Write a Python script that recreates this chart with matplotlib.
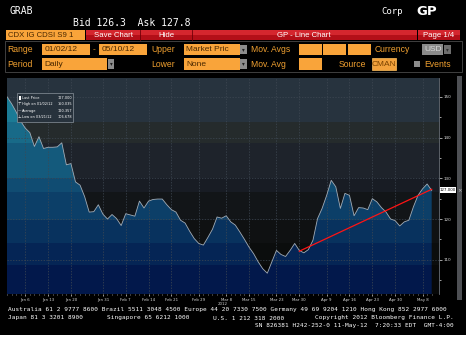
import numpy as np
import pandas as pd
import matplotlib
matplotlib.use("Agg")
import matplotlib.pyplot as plt
from matplotlib.patches import Rectangle, Polygon
from matplotlib.colors import to_rgb

# CDX IG CDSI S9 daily prices, 01/02/12 - 05/10/12 (business days)
dates = pd.bdate_range("2012-01-02", "2012-05-10")
values = [150.0, 148.3, 146.3, 144.0, 142.3, 141.2, 137.8, 140.2, 137.3, 137.6,
          137.6, 137.7, 138.7, 133.3, 133.6, 129.1, 128.3, 125.5, 121.7, 121.8,
          123.5, 121.2, 120.0, 121.1, 120.1, 118.4, 121.3, 121.0, 120.7, 124.4,
          122.7, 124.4, 124.8, 124.9, 124.9, 123.5, 122.3, 121.7, 119.7, 119.0,
          117.0, 115.2, 114.0, 113.6, 115.5, 117.5, 120.5, 120.2, 120.8, 119.3,
          118.5, 116.8, 115.0, 113.1, 111.5, 109.5, 107.8, 106.7, 109.5, 112.3,
          111.3, 110.8, 112.3, 114.0, 112.3, 111.7, 112.5, 114.8, 120.1, 122.6,
          125.8, 129.5, 127.9, 122.6, 126.3, 125.8, 120.8, 122.8, 122.7, 122.3,
          125.0, 124.2, 122.8, 121.7, 120.0, 119.6, 118.3, 119.3, 119.7, 123.0,
          125.8, 127.4, 128.6, 127.0]
trend_dates = ["2012-03-30", "2012-05-10"]
trend_values = [112.1, 127.3]
tick_dates = ["2012-01-06", "2012-01-13", "2012-01-20", "2012-01-31", "2012-02-07",
              "2012-02-14", "2012-02-21", "2012-02-29", "2012-03-08", "2012-03-15",
              "2012-03-23", "2012-03-30", "2012-04-09", "2012-04-16", "2012-04-23",
              "2012-04-30", "2012-05-08"]
tick_labels = ["Jan 6", "Jan 13", "Jan 20", "Jan 31", "Feb 7", "Feb 14", "Feb 21",
               "Feb 29", "Mar 8", "Mar 15", "Mar 23", "Mar 30", "Apr 9", "Apr 16",
               "Apr 23", "Apr 30", "May 8"]
ytick_values = [110, 120, 130, 140, 150]
legend_names = ["Last Price", "High on 01/02/12", "Average", "Low on 03/21/12"]
legend_values = ["127.000", "150.035", "120.357", "106.678"]
last_price = 127.0

W, H = 466, 347
ORANGE = "#f9a43a"
ORANGE_TXT = "#f0a030"
BOX_TXT = "#4a2800"
MONO = "DejaVu Sans Mono"
SANS = "Liberation Sans"

fig = plt.figure(figsize=(W / 100, H / 100), dpi=100, facecolor="black")


def frac(x0, y0, x1, y1):
    return [x0 / W, 1 - y1 / H, (x1 - x0) / W, (y1 - y0) / H]


# ---- chart ----
PX0, PY0, PX1, PY1 = 7, 78, 439, 294
ax = fig.add_axes(frac(PX0, PY0, PX1, PY1))
xmax = 94.6
ymin, ymax = 101.6, 154.6
ax.set_xlim(0, xmax)
ax.set_ylim(ymin, ymax)

# horizontal colour bands (pixel rows of the plot area)
band_edges = [78, 122, 143, 178, 192, 220, 243, 265, 295]
bg_cols = ["#27333e", "#252b2c", "#1e232b", "#181c24", "#121518", "#0f1112", "#0b0d0d", "#070808"]
fill_cols = ["#1b7b95", "#186a88", "#145a7c", "#104c72", "#0c3f68", "#08325e", "#052555", "#02184b"]
rows = np.arange(PY0, PY1)
band_idx = np.searchsorted(band_edges, rows, side="right") - 1
bg_img = np.array([to_rgb(bg_cols[i]) for i in band_idx])[:, None, :]
fill_img = np.array([to_rgb(fill_cols[i]) for i in band_idx])[:, None, :]
ext = (0, xmax, ymin, ymax)
ax.imshow(bg_img, extent=ext, aspect="auto", origin="upper", zorder=0, interpolation="nearest")
im = ax.imshow(fill_img, extent=ext, aspect="auto", origin="upper", zorder=1, interpolation="nearest")

x = np.arange(len(values))
poly = Polygon([(0, ymin)] + list(zip(x, values)) + [(x[-1], ymin)], closed=True,
               facecolor="none", edgecolor="none", transform=ax.transData)
ax.add_patch(poly)
im.set_clip_path(poly)

tick_pos = dates.get_indexer(pd.to_datetime(tick_dates))
for t in tick_pos:
    ax.axvline(t, color="#3e4853", lw=0.5, ls=(0, (2, 2)), zorder=2)
for v in ytick_values:
    ax.axhline(v, color="#3e4853", lw=0.5, ls=(0, (2, 2)), zorder=2)

ax.plot(x, values, color="#a2acb6", lw=0.6, zorder=3)
ax.plot(dates.get_indexer(pd.to_datetime(trend_dates)), trend_values,
        color="#ff1414", lw=0.9, zorder=4)

for s in ["top", "left", "bottom"]:
    ax.spines[s].set_visible(False)
ax.spines["right"].set_color("#6a7078")
ax.spines["right"].set_linewidth(0.6)

ax.yaxis.tick_right()
ax.set_yticks(ytick_values)
ax.set_yticklabels([str(v) for v in ytick_values])
ax.set_yticks([v + 5 for v in ytick_values[:-1]] + [105], minor=True)
ax.tick_params(axis="y", which="major", colors="#e0e0e0", labelsize=3, length=2.5, width=0.5, pad=0.5)
ax.tick_params(axis="y", which="minor", colors="#e0e0e0", length=1.5, width=0.5)
ax.set_xticks(tick_pos)
ax.set_xticklabels(tick_labels)
ax.set_xticks(x, minor=True)
ax.tick_params(axis="x", which="major", colors="#d8d8d8", labelsize=2.8, length=1.2, width=0.5, pad=1.5)
ax.tick_params(axis="x", which="minor", colors="#d8d8d8", length=0.8, width=0.4)

# ---- overlay for the terminal chrome ----
ov = fig.add_axes([0, 0, 1, 1], zorder=5)
ov.set_xlim(0, W)
ov.set_ylim(H, 0)
ov.axis("off")
ov.patch.set_visible(False)


def rect(x0, y0, x1, y1, fc, ec="none", lw=0.5, z=1):
    ov.add_patch(Rectangle((x0, y0), x1 - x0, y1 - y0, facecolor=fc, edgecolor=ec, lw=lw, zorder=z))


def txt(xp, yp, s, color="white", size=6, family=SANS, ha="left", weight="normal"):
    ov.text(xp, yp, s, color=color, fontsize=size, family=family, ha=ha, va="center",
            weight=weight, zorder=5)


# header
txt(10, 11, "GRAB", size=7, family=MONO)
txt(73, 23, "Bid 126.3  Ask 127.8", size=7, family=MONO)
txt(381, 11, "Corp", size=6.5, family=MONO)
txt(416, 11, "GP", size=9.5, weight="bold", family="DejaVu Sans")

# title bar
rect(6, 30, 85, 40, ORANGE)
txt(8, 35, "CDX IG CDSI S9 1", color=BOX_TXT, size=5.6)
rect(86, 30, 417, 35, "#d4262e")
rect(86, 35, 417, 40, "#b30f18")
rect(418, 30, 460, 35, "#d4262e")
rect(418, 35, 460, 40, "#b30f18")
for xs in [140, 192]:
    ov.plot([xs, xs], [30, 40], color="#700008", lw=0.6, zorder=2)
txt(113, 35, "Save Chart", size=5.6, ha="center")
txt(166, 35, "Hide", size=5.6, ha="center")
txt(304, 35, "GP - Line Chart", size=5.6, ha="center")
txt(439, 35, "Page 1/4", size=5.6, ha="center")

# option panel
rect(5, 41, 462, 72, "none", ec="#4a4a4a", lw=0.6)
r1, r2 = 49.5, 64
txt(7, r1, "Range", color=ORANGE_TXT, size=6.2)
rect(42, 44, 90, 55, ORANGE)
txt(45, r1, "01/02/12", color=BOX_TXT, size=6)
txt(93, r1, "-", color=ORANGE_TXT, size=6)
rect(99, 44, 147, 55, ORANGE)
txt(102, r1, "05/10/12", color=BOX_TXT, size=6)
txt(151, r1, "Upper", color=ORANGE_TXT, size=6.2)
rect(184, 44, 240, 55, ORANGE)
txt(186, r1, "Market Pric", color=BOX_TXT, size=6)
rect(240, 45, 247, 54, "#8c8c8c")
txt(243.5, r1, "\u25be", color="#202020", size=4, ha="center", family="DejaVu Sans")
txt(251, r1, "Mov. Avgs", color=ORANGE_TXT, size=6.2)
for bx in [299, 323, 348]:
    rect(bx, 44, bx + 23, 55, ORANGE)
txt(375, r1, "Currency", color=ORANGE_TXT, size=6.2)
rect(422, 44, 443, 55, "#8a8a8a")
txt(424, r1, "USD", color="#d8d8d8", size=6)
rect(444, 45, 451, 54, "#6e6e6e")
txt(447.5, r1, "\u25be", color="#303030", size=4, ha="center", family="DejaVu Sans")

txt(7, r2, "Period", color=ORANGE_TXT, size=6.2)
rect(42, 58, 107, 70, ORANGE)
txt(44, r2, "Daily", color=BOX_TXT, size=6)
rect(108, 59, 114, 69, "#8c8c8c")
txt(111, r2, "\u25be", color="#202020", size=4, ha="center", family="DejaVu Sans")
txt(151, r2, "Lower", color=ORANGE_TXT, size=6.2)
rect(184, 58, 240, 70, ORANGE)
txt(186, r2, "None", color=BOX_TXT, size=6)
rect(240, 59, 247, 69, "#8c8c8c")
txt(243.5, r2, "\u25be", color="#202020", size=4, ha="center", family="DejaVu Sans")
txt(251, r2, "Mov. Avg", color=ORANGE_TXT, size=6.2)
rect(299, 58, 322, 70, ORANGE)
txt(339, r2, "Source", color=ORANGE_TXT, size=6.2)
rect(372, 58, 396, 70, "#f3a23c", ec="#ffc060")
txt(384, r2, "CMAN", color="#7a4200", size=6, ha="center")
rect(414, 60.5, 420, 66.5, "#8c8c8c")
txt(424, r2, "Events", color=ORANGE_TXT, size=6.2)

# scrollbar
rect(457, 76, 462, 300, "#4e5054")

# legend box
rect(17, 93, 73, 122, "#27323c", ec="#8a939c", lw=0.5, z=3)
for i, (nm, vl) in enumerate(zip(legend_names, legend_values)):
    yy = 98 + i * 6.4
    txt(21.5, yy, nm, size=2.5, family="DejaVu Sans")
    txt(72, yy, vl, size=2.5, family="DejaVu Sans", ha="right")
rect(18.5, 96, 21, 100, "white", z=4)
txt(19.5, 104.4, "\u22a4", size=3, family="DejaVu Sans", ha="center")
txt(19.5, 110.8, "\u2014", size=2.5, family="DejaVu Sans", ha="center")
txt(19.5, 117.2, "\u22a5", size=3, family="DejaVu Sans", ha="center")

# last price tag on the right axis
ly = PY0 + (ymax - last_price) / (ymax - ymin) * (PY1 - PY0)
rect(440, ly - 3, 456, ly + 3, "white", z=4)
txt(448, ly, "%.3f" % last_price, color="black", size=2.8, ha="center", family="DejaVu Sans")
txt(460, ly, "\u00d7", color="#c0c0c0", size=4, ha="center", family="DejaVu Sans")

# year under the axis
txt(223, 304, "2012", color="#d0d0d0", size=2.8, ha="center", family="DejaVu Sans")

# footer
fs = 4.45
txt(8, 310, "Australia 61 2 9777 8600 Brazil 5511 3048 4500 Europe 44 20 7330 7500 "
            "Germany 49 69 9204 1210 Hong Kong 852 2977 6000", size=fs, family=MONO)
txt(8, 318, "Japan 81 3 3201 8900", size=fs, family=MONO)
txt(107, 318, "Singapore 65 6212 1000", size=fs, family=MONO)
txt(213, 318, "U.S. 1 212 318 2000", size=fs, family=MONO)
txt(454, 318, "Copyright 2012 Bloomberg Finance L.P.", size=fs, family=MONO, ha="right")
txt(454, 326, "SN 826381 H242-252-0 11-May-12  7:20:33 EDT  GMT-4:00", size=fs,
    family=MONO, ha="right")

rect(0, 335, W, H, "white", z=0)

fig.savefig("out.png", dpi=100, facecolor="black")
